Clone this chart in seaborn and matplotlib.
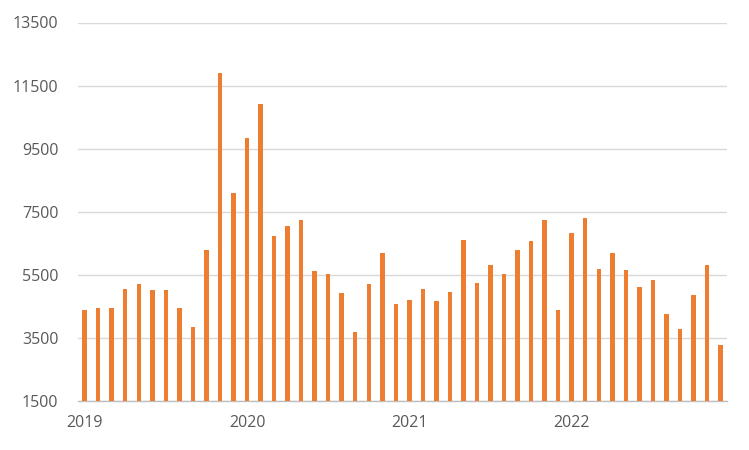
import matplotlib.pyplot as plt
import seaborn as sns
import pandas as pd

# Monthly values, Jan 2019 .. Dec 2022
months = pd.date_range("2019-01-01", periods=48, freq="MS").strftime("%Y-%m").tolist()
values = [
    4400, 4450, 4450, 5050, 5210, 5020, 5020, 4450, 3850, 6290, 11910, 8100,
    9850, 10930, 6740, 7050, 7250, 5630, 5530, 4930, 3690, 5210, 6200, 4580,
    4710, 5050, 4670, 4960, 6610, 5250, 5820, 5530, 6290, 6580, 7250, 4390,
    6830, 7310, 5690, 6200, 5660, 5120, 5340, 4260, 3790, 4860, 5820, 3280,
]
year_labels = ["2019", "2020", "2021", "2022"]
y_ticks = [1500, 3500, 5500, 7500, 9500, 11500, 13500]

df = pd.DataFrame({"month": months, "value": values})

sns.set_theme(style="white")
plt.rcParams["font.family"] = ["Open Sans", "DejaVu Sans"]

fig = plt.figure(figsize=(7.49, 4.5), dpi=100)
ax = fig.add_axes([0.104, 0.108, 0.867, 0.842])

sns.barplot(data=df, x="month", y="value", order=months, color="#ED7D31",
            saturation=1, width=0.33, linewidth=0, ax=ax, zorder=3)

ax.set_ylim(1500, 13500)
ax.set_xlim(-0.5, len(months) - 0.5)
ax.set_yticks(y_ticks)
ax.set_yticklabels([str(t) for t in y_ticks])
ax.yaxis.grid(True, color="#D9D9D9", linewidth=1, zorder=0)
ax.set_xlabel("")
ax.set_ylabel("")

# year labels centred on January bars, tick marks on category boundaries
ax.set_xticks([0, 12, 24, 36])
ax.set_xticklabels(year_labels)
ax.set_xticks([-0.5, 11.5, 23.5, 35.5, 47.5], minor=True)
ax.tick_params(axis="x", which="major", length=0, pad=10, labelsize=11.5, labelcolor="#595959")
ax.tick_params(axis="x", which="minor", length=5, width=1, color="#BFBFBF", direction="out")
ax.tick_params(axis="y", length=0, pad=14, labelsize=11.5, labelcolor="#595959")

for s in ["top", "right", "left"]:
    ax.spines[s].set_visible(False)
ax.spines["bottom"].set_color("#BFBFBF")
ax.spines["bottom"].set_linewidth(1)

fig.savefig("out.png", dpi=100)
